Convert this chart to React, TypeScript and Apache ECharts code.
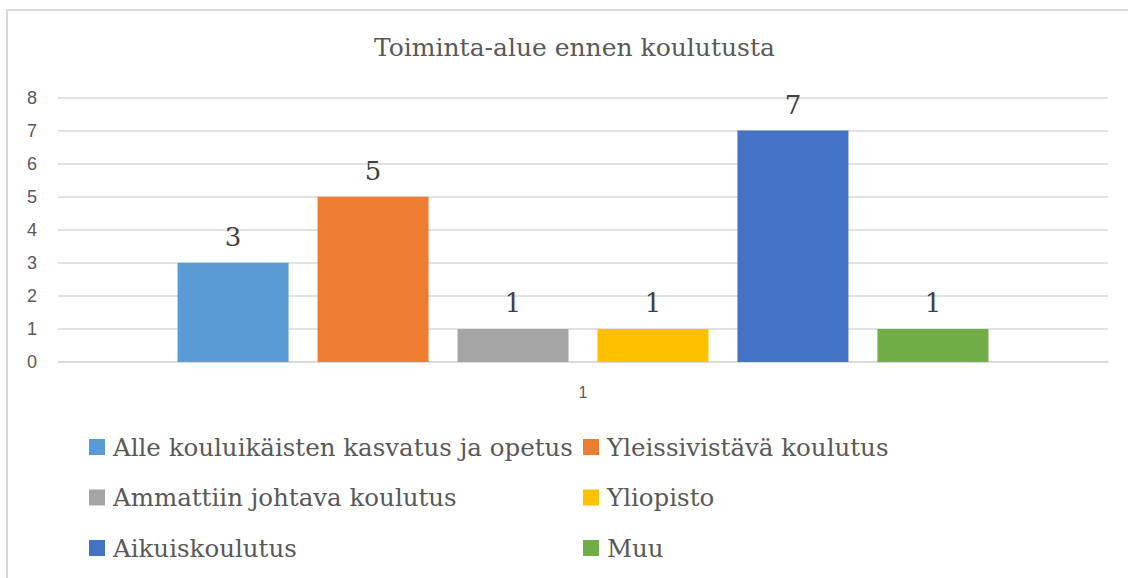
import React, { useEffect, useRef } from "react";
import * as echarts from "echarts";

const titleText = "Toiminta-alue ennen koulutusta";
const categories = ["1"];
const seriesNames = [
  "Alle kouluikäisten kasvatus ja opetus",
  "Yleissivistävä koulutus",
  "Ammattiin johtava koulutus",
  "Yliopisto",
  "Aikuiskoulutus",
  "Muu",
];
const seriesValues = [3, 5, 1, 1, 7, 1];
const seriesColors = ["#5B9BD5", "#ED7D31", "#A5A5A5", "#FFC000", "#4472C4", "#70AD47"];
const yTicks = { min: 0, max: 8, interval: 1 };

const SERIF = "'DejaVu Serif', 'Liberation Serif', serif";
const SANS = "'Liberation Sans', 'Open Sans', sans-serif";

export default function App() {
  const ref = useRef<HTMLDivElement>(null);
  useEffect(() => {
    if (!ref.current) return;
    const chart = echarts.init(ref.current, undefined, { renderer: "svg" });
    const legendText = { fontFamily: SERIF, fontSize: 24.5, color: "#595959", lineHeight: 26, padding: [0, 0, 0, 3] };
    chart.setOption({
      animation: false,
      backgroundColor: "#ffffff",
      title: {
        text: titleText,
        left: 374,
        top: 35,
        padding: 0,
        textStyle: { fontFamily: SERIF, fontSize: 25, fontWeight: "normal", color: "#595959" },
      },
      graphic: [
        {
          type: "polyline",
          shape: { points: [[7, 578], [7, 10], [1128, 10]] },
          style: { stroke: "#D9D9D9", lineWidth: 2, fill: "none" },
          silent: true,
        },
      ],
      grid: { left: 58, right: 20, top: 97.5, bottom: 216, containLabel: false },
      xAxis: {
        type: "category",
        data: categories,
        axisLine: { show: true, lineStyle: { color: "#D9D9D9", width: 1.5 } },
        axisTick: { show: false },
        axisLabel: { fontFamily: SANS, fontSize: 16, color: "#595959", margin: 22 },
      },
      yAxis: {
        type: "value",
        min: yTicks.min,
        max: yTicks.max,
        interval: yTicks.interval,
        axisLine: { show: false },
        axisTick: { show: false },
        splitLine: { lineStyle: { color: "#D9D9D9", width: 1.5 } },
        axisLabel: { fontFamily: SANS, fontSize: 18, color: "#595959", margin: 21 },
      },
      legend: [
        {
          orient: "vertical",
          left: 89,
          top: 434,
          padding: 0,
          itemWidth: 16,
          itemHeight: 16,
          itemGap: 24.5,
          icon: "rect",
          textStyle: legendText,
          data: [seriesNames[0], seriesNames[2], seriesNames[4]],
        },
        {
          orient: "vertical",
          left: 583,
          top: 434,
          padding: 0,
          itemWidth: 16,
          itemHeight: 16,
          itemGap: 24.5,
          icon: "rect",
          textStyle: legendText,
          data: [seriesNames[1], seriesNames[3], seriesNames[5]],
        },
      ],
      series: seriesNames.map((name, i) => ({
        type: "bar",
        name,
        data: [seriesValues[i]],
        barWidth: 111,
        barGap: "26.1%",
        itemStyle: { color: seriesColors[i] },
        label: {
          show: true,
          position: "top",
          distance: 13,
          fontFamily: SERIF,
          fontSize: 26,
          color: "#404040",
        },
      })),
    });
    return () => chart.dispose();
  }, []);
  return <div ref={ref} style={{ position: "absolute", left: 0, top: 0, width: 1128, height: 578 }} />;
}
